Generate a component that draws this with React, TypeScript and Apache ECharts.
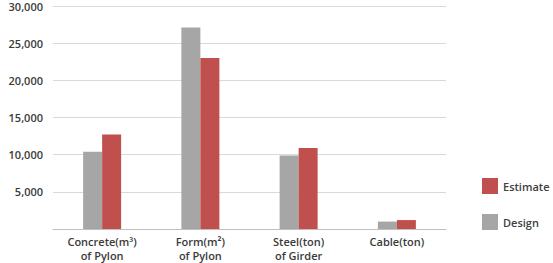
import React, { useEffect, useRef } from "react";
import * as echarts from "echarts";

const categories = ["Concrete(m³)\nof Pylon", "Form(m²)\nof Pylon", "Steel(ton)\nof Girder", "Cable(ton)"];
const designValues = [10400, 27100, 9900, 1000];
const estimateValues = [12700, 23000, 10900, 1200];
const yTicks = { min: 0, max: 30000, interval: 5000 };

const FONT = "'Open Sans', 'Noto Sans', sans-serif";

export default function App() {
  const ref = useRef<HTMLDivElement>(null);

  useEffect(() => {
    if (!ref.current) return;
    const chart = echarts.init(ref.current, undefined, { renderer: "svg" });
    chart.setOption({
      animation: false,
      backgroundColor: "#ffffff",
      textStyle: { fontFamily: FONT },
      grid: {
        left: 53,
        right: 107,
        top: 6,
        bottom: 34,
        containLabel: false,
        outerBoundsMode: "none",
      },
      legend: {
        orient: "vertical",
        left: 477,
        top: 173,
        itemWidth: 16,
        itemHeight: 16,
        itemGap: 20,
        icon: "rect",
        data: ["Estimate", "Design"],
        textStyle: { fontSize: 11, fontWeight: 600, color: "#404040", fontFamily: FONT, padding: [0, 0, 0, 0] },
      },
      xAxis: {
        type: "category",
        data: categories,
        axisTick: { show: false },
        axisLine: { lineStyle: { color: "#bfbfbf", width: 1 } },
        axisLabel: {
          fontSize: 11,
          fontWeight: 600,
          lineHeight: 14,
          margin: 5,
          color: "#3a3a3a",
          fontFamily: FONT,
          interval: 0,
        },
      },
      yAxis: {
        type: "value",
        min: yTicks.min,
        max: yTicks.max,
        interval: yTicks.interval,
        axisLine: { show: false },
        axisTick: { show: false },
        splitLine: { lineStyle: { color: "#d9d9d9", width: 1 } },
        axisLabel: {
          fontSize: 11,
          fontWeight: 600,
          color: "#3a3a3a",
          fontFamily: FONT,
          margin: 10,
          formatter: (v: number) => (v === 0 ? "" : v.toLocaleString("en-US")),
        },
      },
      series: [
        {
          name: "Design",
          type: "bar",
          data: designValues,
          barWidth: 19,
          barGap: "0%",
          itemStyle: { color: "#a6a6a6" },
        },
        {
          name: "Estimate",
          type: "bar",
          data: estimateValues,
          barWidth: 19,
          barGap: "0%",
          itemStyle: { color: "#c0504d" },
        },
      ],
    });
    return () => chart.dispose();
  }, []);

  return <div ref={ref} style={{ width: 553, height: 263, position: "absolute", left: 0, top: 0 }} />;
}
